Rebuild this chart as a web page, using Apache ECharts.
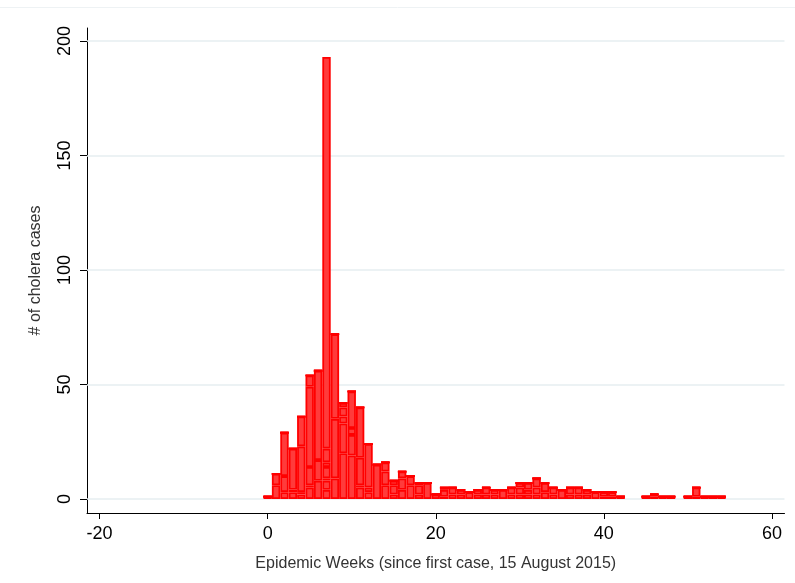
<!DOCTYPE html>
<html><head><meta charset="utf-8">
<script src="https://cdn.jsdelivr.net/npm/echarts@6/dist/echarts.min.js"></script>
<style>html,body{margin:0;padding:0;background:#fff}#c{width:795px;height:583px}</style>
</head><body><div id="c"></div>
<script>
// Epidemic week of each bar (weeks with zero cases omitted)
const weeks = [0,1,2,3,4,5,6,7,8,9,10,11,12,13,14,15,16,17,18,19,20,21,22,23,24,25,26,27,28,29,30,31,32,33,34,35,36,37,38,39,40,41,42,45,46,47,48,50,51,52,53,54];
// Stacked sub-groups inside each weekly bar (bottom to top)
const layer1 = [1,6,3,3,2,5,8,4,9,20, 19,5,3,15,6,2,4,6,2,7, 2,1,2,2,3,2,2,2,4,2, 2,2,2,3,2,4,2,2,2,3, 1,1,1, 1,1,1,1, 1,1,1,1,1];
const layer2 = [0,5,7,1,1,1,9,4,26,13, 9,1,2,0,6,4,5,4,4,0, 0,3,3,2,0,2,3,2,0,3, 3,2,3,4,3,0,3,3,2,0, 2,2,0, 0,1,0,0, 0,4,0,0,0];
const layer3 = [0,0,19,18,20,8,39,1,37,3, 3,12,19,0,4,2,3,0,1,0, 0,1,0,0,0,0,0,0,0,0, 2,3,4,0,0,0,0,0,0,0, 0,0,0, 0,0,0,0, 0,0,0,0,0];
const layer4 = [0,0,0,0,13,35,0,5,0,4, 16,22,0,0,0,0,0,0,0,0, 0,0,0,0,0,0,0,0,0,0, 0,0,0,0,0,0,0,0,0,0, 0,0,0, 0,0,0,0, 0,0,0,0,0];
const layer5 = [0,0,0,0,0,5,0,2,0,2, 0,0,0,0,0,0,0,0,0,0, 0,0,0,0,0,0,0,0,0,0, 0,0,0,0,0,0,0,0,0,0, 0,0,0, 0,0,0,0, 0,0,0,0,0];
const layer6 = [0,0,0,0,0,0,0,6,0,0, 0,0,0,0,0,0,0,0,0,0, 0,0,0,0,0,0,0,0,0,0, 0,0,0,0,0,0,0,0,0,0, 0,0,0, 0,0,0,0, 0,0,0,0,0];
const layer7 = [0,0,0,0,0,0,0,171,0,0, 0,0,0,0,0,0,0,0,0,0, 0,0,0,0,0,0,0,0,0,0, 0,0,0,0,0,0,0,0,0,0, 0,0,0, 0,0,0,0, 0,0,0,0,0];
const xTicks = [-20,0,20,40,60];
const yTicks = [0,50,100,150,200];
const xRange = [-21, 61];   // first and last week slot shown on the axis
const xTitle = 'Epidemic Weeks (since first case, 15 August 2015)';
const yTitle = '# of cholera cases';

// axis slots, one per week
const weekSlots = [];
for (let w = xRange[0]; w <= xRange[1]; w++) weekSlots.push(String(w));
const layers = [layer1,layer2,layer3,layer4,layer5,layer6,layer7];
const FONT = "'Liberation Sans', Arial, sans-serif";
const chart = echarts.init(document.getElementById('c'));
const series = layers.map((layer, i) => {
  const vals = weekSlots.map(() => null);
  weeks.forEach((w, j) => { vals[weekSlots.indexOf(String(w))] = layer[j]; });
  const s = {
    type: 'bar', stack: 'cases', barCategoryGap: '0%', barGap: '0%',
    data: vals,
    itemStyle: {color: '#ff3b3b', borderColor: '#ff0000', borderWidth: 1.8},
    emphasis: {disabled: true}, silent: true
  };
  if (i === 0) {
    s.markLine = {
      silent: true, symbol: 'none', z: 1, label: {show: false},
      lineStyle: {color: '#e6eef1', width: 1.5, type: 'solid'},
      data: yTicks.map(v => ({yAxis: v}))
    };
  }
  return s;
});
const isTick = (idx, val) => xTicks.indexOf(Number(val)) >= 0;
chart.setOption({
  animation: false,
  backgroundColor: '#ffffff',
  grid: {left: 87, width: 697.5, top: 28, bottom: 70, containLabel: false},
  graphic: [{type: 'line', shape: {x1: 0, y1: 7.5, x2: 795, y2: 7.5}, style: {stroke: '#eef2f4', lineWidth: 1}}],
  xAxis: {
    type: 'category', data: weekSlots, boundaryGap: true,
    axisLine: {show: true, onZero: false, lineStyle: {color: '#000', width: 1}},
    axisTick: {show: true, length: 6, alignWithLabel: true, interval: isTick, lineStyle: {color: '#000'}},
    axisLabel: {interval: isTick, fontSize: 18, color: '#000', fontFamily: FONT, margin: 12},
    splitLine: {show: false},
    name: xTitle, nameLocation: 'middle', nameGap: 43,
    nameTextStyle: {fontSize: 16, color: '#333', fontFamily: FONT}
  },
  yAxis: {
    type: 'value', min: -6.11, max: 205.68,
    axisLine: {show: true, onZero: false, lineStyle: {color: '#000', width: 1}},
    axisTick: {show: true, length: 7, customValues: yTicks, lineStyle: {color: '#000'}},
    axisLabel: {customValues: yTicks, rotate: 90, fontSize: 18, color: '#000', fontFamily: FONT, margin: 13},
    splitLine: {show: false},
    name: yTitle, nameLocation: 'middle', nameGap: 43,
    nameTextStyle: {fontSize: 16, color: '#333', fontFamily: FONT}
  },
  series: series
});
</script>
</body></html>
